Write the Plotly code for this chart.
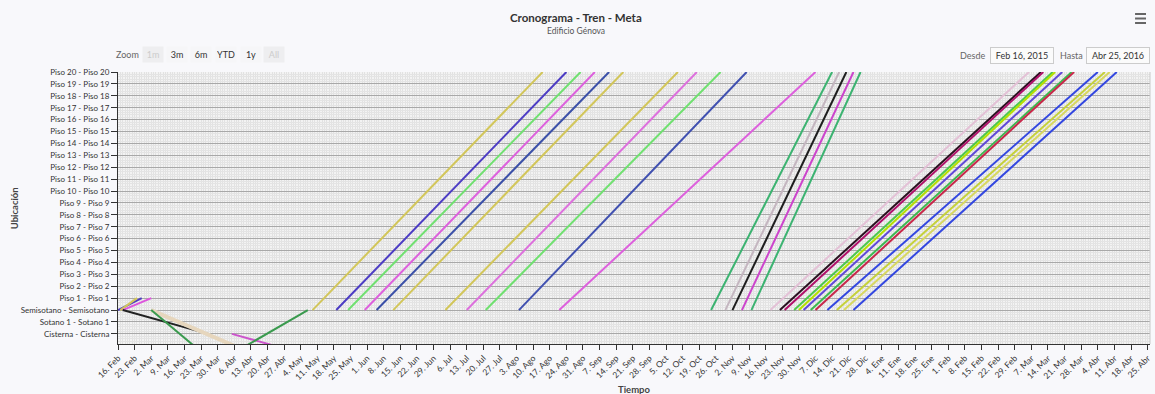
import pandas as pd
import plotly.graph_objects as go

FONT = "Lato, Liberation Sans, sans-serif"

# Ubicaciones (índice 0 = Cisterna ... 22 = Piso 20); -1 queda bajo la cisterna
ubicaciones = (["Cisterna - Cisterna", "Sotano 1 - Sotano 1", "Semisotano - Semisotano"]
               + [f"Piso {n} - Piso {n}" for n in range(1, 21)])

meses = ["Ene", "Feb", "Mar", "Abr", "May", "Jun", "Jul", "Ago", "Sep", "Oct", "Nov", "Dic"]

# Tramos del tren de trabajo: fecha inicial/final y nivel inicial/final
fecha_inicio = [
    "2015-02-16", "2015-02-17", "2015-02-18", "2015-02-18", "2015-03-02", "2015-03-02",
    "2015-04-05", "2015-04-11",
    "2015-05-09", "2015-05-19", "2015-05-24", "2015-05-31", "2015-06-05", "2015-06-12",
    "2015-07-04", "2015-07-13", "2015-07-21", "2015-08-04", "2015-08-21",
    "2015-10-24", "2015-10-30", "2015-11-02", "2015-11-06", "2015-11-10",
    "2015-11-18", "2015-11-22", "2015-11-24", "2015-11-28", "2015-11-30", "2015-12-02",
    "2015-12-05", "2015-12-07", "2015-12-12", "2015-12-16", "2015-12-19", "2015-12-23",
]
fecha_fin = [
    "2015-02-26", "2015-02-24", "2015-03-02", "2015-03-26", "2015-04-06", "2015-03-20",
    "2015-04-23", "2015-05-07",
    "2015-08-14", "2015-08-24", "2015-08-30", "2015-09-05", "2015-09-11", "2015-09-17",
    "2015-10-10", "2015-10-18", "2015-10-28", "2015-11-08", "2015-12-07",
    "2015-12-14", "2015-12-17", "2015-12-20", "2015-12-23", "2015-12-26",
    "2016-03-06", "2016-03-11", "2016-03-12", "2016-03-16", "2016-03-17", "2016-03-20",
    "2016-03-24", "2016-03-25", "2016-04-04", "2016-04-07", "2016-04-09", "2016-04-12",
]
nivel_inicio = [2, 2, 2, 2, 2, 2, 0, -1] + [2] * 28
nivel_fin = [3, 3, 3, 0, -1, -1, -1, 2] + [22] * 28

colores = [
    "#4f3fbf", "#d2c65a", "#dd55dd", "#222222", "#e6d6bd", "#3a9a4e",
    "#cc55cc", "#3a9a4e",
    "#d2c65a", "#4c3cc4", "#70e070", "#dd60dd", "#3b50a8", "#d2c65a",
    "#d2c65a", "#dd70dd", "#70e070", "#4050b0", "#dd60dd",
    "#3cb371", "#c4b6c0", "#1e1e1e", "#cc44cc", "#3cb371",
    "#e3c1d6", "#2a1020", "#b0106a", "#4cc84c", "#b5e000", "#6048d8",
    "#3cb850", "#c8284a", "#3347e0", "#c5d13a", "#d8d860", "#3347e0",
]
anchos = [2, 2, 2, 2, 4, 2, 2, 2] + [2] * 28

# Ticks semanales del eje de tiempo
semanas = pd.date_range("2015-02-16", "2016-04-25", freq="7D")
etiquetas_semana = [f"{d.day}. {meses[d.month - 1]}" for d in semanas]

fig = go.Figure()
for f0, f1, n0, n1, c, w in zip(fecha_inicio, fecha_fin, nivel_inicio, nivel_fin, colores, anchos):
    fig.add_trace(go.Scatter(
        x=[f0, f1], y=[n0, n1], mode="lines",
        line=dict(color=c, width=w), showlegend=False, hoverinfo="x+y",
    ))

W, H = 1155, 394
L, R, T, B = 118, 2, 72, 50
PW, PH = W - L - R, H - T - B


def px(x):
    return (x - L) / PW


def py(y):
    return (H - B - y) / PH


annotations = [
    dict(text="<b>Cronograma - Tren - Meta</b>", x=px(577.5), y=py(17), font=dict(size=11.5, color="#333")),
    dict(text="Edificio Génova", x=px(577.5), y=py(31), font=dict(size=8.5, color="#555")),
    dict(text="<b>Ubicación</b>", x=px(14), y=0.5, textangle=-90, font=dict(size=9.5, color="#444")),
    dict(text="<b>Tiempo</b>", x=0.5, y=py(389), font=dict(size=9.5, color="#444")),
    dict(text="Zoom", x=px(128), y=py(54), font=dict(size=9, color="#666")),
    dict(text="Desde", x=px(975), y=py(55), font=dict(size=9, color="#666")),
    dict(text="Hasta", x=px(1074), y=py(55), font=dict(size=9, color="#666")),
    dict(text="Feb 16, 2015", x=px(1024.5), y=py(55), font=dict(size=9, color="#333"),
         bordercolor="#cccccc", borderwidth=1, bgcolor="#fbfbfb", width=60, height=13, borderpad=1),
    dict(text="Abr 25, 2016", x=px(1120.5), y=py(55), font=dict(size=9, color="#333"),
         bordercolor="#cccccc", borderwidth=1, bgcolor="#fbfbfb", width=60, height=13, borderpad=1),
]
botones = [("1m", 153, False), ("3m", 177, True), ("6m", 201, True),
           ("YTD", 226, True), ("1y", 251, True), ("All", 274, False)]
for txt, cx, activo in botones:
    annotations.append(dict(
        text=txt, x=px(cx), y=py(54),
        font=dict(size=9, color="#333" if activo else "#cccccc"),
        bgcolor="#f6f6f8" if activo else "#eeeef0", width=18, height=13, borderpad=1,
    ))
for a in annotations:
    a.update(xref="paper", yref="paper", showarrow=False, xanchor="center", yanchor="middle")

shapes = []
for yy in (14, 18.5, 23):
    shapes.append(dict(type="line", xref="paper", yref="paper",
                       x0=px(1138), x1=px(1149), y0=py(yy), y1=py(yy),
                       line=dict(color="#666", width=2)))
shapes.append(dict(type="line", xref="paper", yref="paper", x0=1, x1=1, y0=0, y1=1,
                   line=dict(color="#c8c8c8", width=1)))

fig.update_layout(
    width=W, height=H,
    margin=dict(l=L, r=R, t=T, b=B),
    paper_bgcolor="#f8f8fb",
    plot_bgcolor="#f3f3f3",
    font=dict(family=FONT, size=9, color="#333"),
    annotations=annotations,
    shapes=shapes,
    xaxis=dict(
        type="date", range=["2015-02-16", "2016-04-26"],
        tickmode="array", tickvals=semanas, ticktext=etiquetas_semana,
        tickangle=-45, ticks="outside", ticklen=5, tickcolor="#333",
        tickfont=dict(size=8.5, color="#333"), ticklabeloverflow="allow",
        showline=True, linecolor="#333", linewidth=1,
        showgrid=False, zeroline=False,
        minor=dict(tickmode="linear", tick0="2015-02-16", dtick=86400000,
                   showgrid=True, gridcolor="#e2e2e2", gridwidth=1, ticks=""),
    ),
    yaxis=dict(
        range=[-0.85, 22], tickmode="array", tickvals=list(range(len(ubicaciones))),
        ticktext=ubicaciones, ticks="outside", ticklen=6, tickcolor="#333",
        tickfont=dict(size=8, color="#333"),
        showline=True, linecolor="#333", linewidth=1,
        showgrid=True, gridcolor="#a8a8a8", gridwidth=1, zeroline=False,
        minor=dict(tickmode="linear", tick0=0, dtick=0.2,
                   showgrid=True, gridcolor="#e4e4e4", gridwidth=1, ticks=""),
    ),
)

fig.write_html("out.html")
